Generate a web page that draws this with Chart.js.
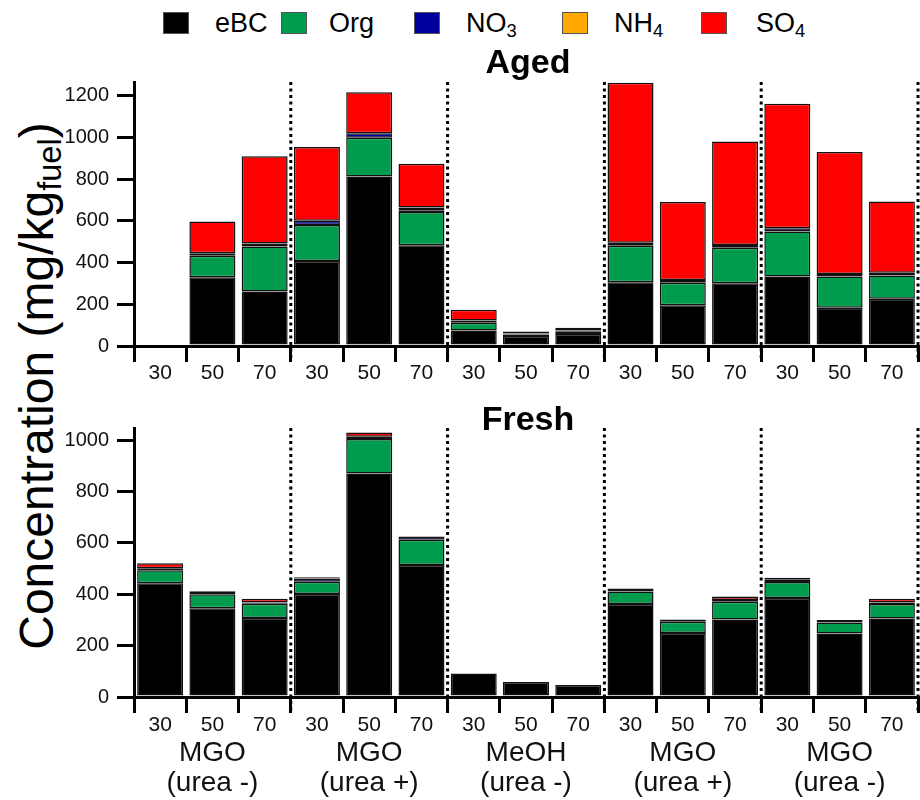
<!DOCTYPE html>
<html>
<head>
<meta charset="utf-8">
<script src="https://cdn.jsdelivr.net/npm/chart.js@4.4.1/dist/chart.umd.min.js"></script>
<style>
  body { margin: 0; background: #fff; font-family: "Liberation Sans", Arial, sans-serif; }
  #page { position: relative; width: 920px; height: 800px; overflow: hidden; }
  .box { position: absolute; left: 0; width: 920px; }
  .sq { position: absolute; top: 12px; width: 26px; height: 22px; box-sizing: border-box; border: 1px solid #555; }
  .lt { position: absolute; top: 7px; font-size: 27px; line-height: 32px; color: #000; white-space: nowrap; }
  .lt sub { font-size: 0.68em; vertical-align: -0.25em; line-height: 0; }
  #ytitle { position: absolute; left: 36px; top: 386px; transform: translate(-50%, -50%) rotate(-90deg);
            font-size: 48px; white-space: nowrap; color: #000; }
  #ytitle sub { font-size: 0.68em; vertical-align: -0.25em; line-height: 0; }
</style>
</head>
<body>
<div id="page">
  <div class="sq" style="left:163px;background:#000"></div><div class="lt" style="left:215px">eBC</div>
  <div class="sq" style="left:281px;background:#009B4C"></div><div class="lt" style="left:329px">Org</div>
  <div class="sq" style="left:414px;background:#00009C"></div><div class="lt" style="left:466px">NO<sub>3</sub></div>
  <div class="sq" style="left:562px;background:#FFA800"></div><div class="lt" style="left:614px">NH<sub>4</sub></div>
  <div class="sq" style="left:701px;background:#FF0000"></div><div class="lt" style="left:756px">SO<sub>4</sub></div>

  <div id="ytitle">Concentration (mg/kg<sub>fuel</sub>)</div>

  <div class="box" style="top:40px;height:360px"><canvas id="aged" width="920" height="360"></canvas></div>
  <div class="box" style="top:400px;height:400px"><canvas id="fresh" width="920" height="400"></canvas></div>
</div>

<script>
// engine load (%) per bar, grouped by fuel / urea setting
const loads = ['30', '50', '70', '30', '50', '70', '30', '50', '70', '30', '50', '70', '30', '50', '70'];
const groups = [['MGO', '(urea -)'], ['MGO', '(urea +)'], ['MeOH', '(urea -)'], ['MGO', '(urea +)'], ['MGO', '(urea -)']];
const species = ['eBC', 'Org', 'NO3', 'NH4', 'SO4'];
const colors = ['#000000', '#009B4C', '#00009C', '#FFA800', '#FF0000'];

// y tick values of each panel
const agedTicks = [0, 200, 400, 600, 800, 1000, 1200];
const freshTicks = [0, 200, 400, 600, 800, 1000];

// aged, mg/kg fuel
const agedEBC = [0, 330, 262, 408, 813, 483, 74, 48, 58, 306, 195, 301, 333, 184, 227];
const agedOrg = [0, 103, 215, 173, 187, 160, 38, 7, 10, 175, 109, 171, 216, 149, 111];
const agedNO3 = [0, 12, 15, 20, 21, 8, 10, 5, 6, 15, 13, 13, 16, 13, 14];
const agedNH4 = [0, 0, 0, 0, 0, 14, 0, 0, 0, 0, 0, 0, 0, 0, 0];
const agedSO4 = [0, 152, 419, 354, 197, 210, 52, 10, 14, 768, 374, 496, 598, 585, 341];

// fresh, mg/kg fuel
const freshEBC = [443, 345, 307, 401, 870, 514, 91, 58, 47, 362, 249, 302, 385, 247, 306];
const freshOrg = [50, 55, 56, 48, 134, 98, 0, 0, 0, 49, 44, 69, 63, 43, 56];
const freshNO3 = [8, 12, 5, 12, 9, 13, 0, 0, 0, 11, 9, 7, 8, 10, 6];
const freshNH4 = [0, 0, 0, 0, 0, 0, 0, 0, 0, 0, 0, 0, 0, 0, 0];
const freshSO4 = [20, 0, 14, 5, 16, 0, 0, 0, 0, 0, 0, 13, 8, 0, 14];

const FONT = '"Liberation Sans", Arial, sans-serif';

// dotted group separators + panel title
const panelPlugin = {
    id: 'panel',
    afterDraw(chart, args, opts) {
        const { ctx, chartArea } = chart;
        const x = chart.scales.x;
        ctx.save();
        ctx.strokeStyle = '#000';
        ctx.lineWidth = 3;
        ctx.setLineDash([3, 3.5]);
        [3, 6, 9, 12, 15].forEach(i => {
            let px = i < loads.length ? (x.getPixelForValue(i - 1) + x.getPixelForValue(i)) / 2 : chartArea.right;
            ctx.beginPath();
            ctx.moveTo(px, chartArea.top - opts.above);
            ctx.lineTo(px, chartArea.bottom + opts.below);
            ctx.stroke();
        });
        ctx.setLineDash([]);
        ctx.fillStyle = '#000';
        ctx.font = 'bold 34px ' + FONT;
        ctx.textAlign = 'center';
        ctx.textBaseline = 'alphabetic';
        ctx.fillText(opts.title, (chartArea.left + chartArea.right) / 2 + 2, opts.titleY);
        ctx.restore();
    }
};

const makeDatasets = (series) => series.map((vals, i) => ({
    label: species[i],
    data: vals.map(v => v || null),
    backgroundColor: colors[i],
    borderColor: '#111',
    borderWidth: 1.5,
    borderSkipped: false,
    barPercentage: 0.88,
    categoryPercentage: 1.0
}));

const makePanel = (id, series, yTicks, yMax, o) => {
    const scales = {
        x: {
            stacked: true,
            offset: true,
            grid: { offset: true, drawOnChartArea: false, drawTicks: true, tickLength: 16, lineWidth: 3, color: '#000' },
            border: { display: true, color: '#000', width: 3 },
            ticks: { color: '#111', font: { family: FONT, size: 21 }, padding: o.tickPad, maxRotation: 0, autoSkip: false },
            afterFit: (s) => { s.height = o.xHeight; }
        },
        y: {
            stacked: true,
            min: 0,
            max: yMax,
            grid: { drawOnChartArea: false, drawTicks: true, tickLength: 17, lineWidth: 3, color: '#000' },
            border: { display: true, color: '#000', width: 3 },
            ticks: { color: '#111', font: { family: FONT, size: 20 }, padding: 8, autoSkip: false, callback: (v) => String(v) },
            afterBuildTicks: (s) => { s.ticks = yTicks.map(v => ({ value: v })); },
            afterFit: (s) => { s.width = 134; }
        }
    };
    if (o.groupAxis) {
        scales.xg = {
            type: 'category',
            labels: groups,
            position: 'bottom',
            offset: true,
            grid: { display: false },
            border: { display: false },
            ticks: { color: '#111', font: { family: FONT, size: 28, lineHeight: 1.08 }, padding: -3, maxRotation: 0 },
            afterFit: (s) => { s.height = o.groupHeight; }
        };
    }
    return new Chart(document.getElementById(id), {
        type: 'bar',
        data: { labels: loads, datasets: makeDatasets(series) },
        options: {
            responsive: false,
            animation: false,
            devicePixelRatio: 1,
            layout: { padding: { top: o.padTop, right: 2, left: 0, bottom: 0 } },
            plugins: {
                legend: { display: false },
                tooltip: { enabled: false },
                panel: { title: o.title, titleY: o.titleY, above: o.above, below: o.below }
            },
            scales: scales
        },
        plugins: [panelPlugin]
    });
};

makePanel('aged', [agedEBC, agedOrg, agedNO3, agedNH4, agedSO4], agedTicks, 1267,
    { title: 'Aged', titleY: 33, padTop: 42, xHeight: 54, tickPad: -1, above: 0, below: 12 });

makePanel('fresh', [freshEBC, freshOrg, freshNO3, freshNH4, freshSO4], freshTicks, 1047,
    { title: 'Fresh', titleY: 30, padTop: 28, xHeight: 36, tickPad: 0, groupAxis: true, groupHeight: 67, above: 0, below: 14 });
</script>
</body>
</html>
